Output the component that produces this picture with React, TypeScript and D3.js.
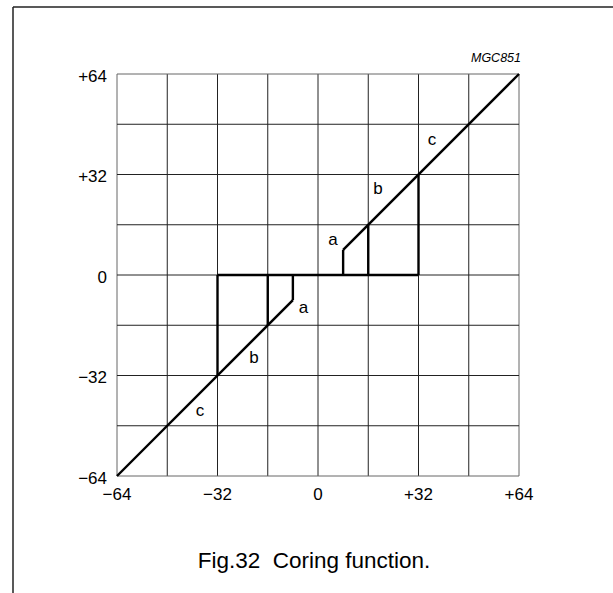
import { scaleLinear, line, range } from 'd3';

// axis domain and ticks
const domain = [-64, 64];
const gridTicks = range(-64, 65, 16);
const labelTicks = [-64, -32, 0, 32, 64];
const tickLabel = (v: number) => (v > 0 ? `+${v}` : v < 0 ? `\u2212${-v}` : '0');

// coring thresholds (a, b, c regions)
const thresholds = [8, 16, 32];
const diagonalParts: [number, number][][] = [
  [[-64, -64], [-8, -8]],
  [[8, 8], [64, 64]],
];
const zeroLine: [number, number][] = [[-32, 0], [32, 0]];

// region labels in data coordinates
const regionLabels = [
  { text: 'a', x: 4.8, y: 11.4 },
  { text: 'b', x: 19.1, y: 27.6 },
  { text: 'c', x: 36.3, y: 43.3 },
  { text: 'a', x: -4.6, y: -10.4 },
  { text: 'b', x: -20.4, y: -26.4 },
  { text: 'c', x: -37.6, y: -43 },
];

const code = 'MGC851';
const caption = 'Fig.32  Coring function.';

const font = 'Liberation Sans, Arial, Helvetica, sans-serif';

export default function App() {
  const width = 613;
  const height = 593;
  const left = 117;
  const right = 519;
  const top = 74;
  const bottom = 476;

  const x = scaleLinear().domain(domain).range([left, right]);
  const y = scaleLinear().domain(domain).range([bottom, top]);
  const path = line<[number, number]>()
    .x((d) => x(d[0]))
    .y((d) => y(d[1]));

  const verticals = thresholds.flatMap((t) => [t, -t]);

  return (
    <svg
      width={width}
      height={height}
      style={{ position: 'absolute', left: 0, top: 0, background: '#fff' }}
      fontFamily={font}
    >
      {/* page frame */}
      <line x1={13} y1={7} x2={width} y2={7} stroke="#222" strokeWidth={1.5} />
      <line x1={13} y1={7} x2={13} y2={height} stroke="#222" strokeWidth={1.5} />

      {/* grid */}
      <g>
        {gridTicks.map((t) => (
          <line
            key={`v${t}`}
            x1={x(t)}
            x2={x(t)}
            y1={top}
            y2={bottom}
            stroke={Math.abs(t) === 64 ? '#666' : '#222'}
            strokeWidth={1}
          />
        ))}
        {gridTicks.map((t) => (
          <line
            key={`h${t}`}
            x1={left}
            x2={right}
            y1={y(t)}
            y2={y(t)}
            stroke={Math.abs(t) === 64 ? '#666' : '#222'}
            strokeWidth={1}
          />
        ))}
      </g>

      {/* coring function */}
      <g fill="none" stroke="#000" strokeWidth={2.4}>
        {diagonalParts.map((p, i) => (
          <path key={`d${i}`} d={path(p) || ''} />
        ))}
        <path d={path(zeroLine) || ''} />
        {verticals.map((t) => (
          <path
            key={`s${t}`}
            d={
              path([
                [t, 0],
                [t, t],
              ]) || ''
            }
          />
        ))}
      </g>

      {/* region labels */}
      {regionLabels.map((l, i) => (
        <text key={i} x={x(l.x)} y={y(l.y) + 5.5} fontSize={17} textAnchor="middle" fill="#000">
          {l.text}
        </text>
      ))}

      {/* y tick labels */}
      {labelTicks.map((t) => (
        <text key={`yl${t}`} x={left - 10} y={y(t) + 7.5} fontSize={17} textAnchor="end" fill="#000">
          {tickLabel(t)}
        </text>
      ))}

      {/* x tick labels */}
      {labelTicks.map((t) => (
        <text key={`xl${t}`} x={x(t)} y={bottom + 24} fontSize={17} textAnchor="middle" fill="#000">
          {tickLabel(t)}
        </text>
      ))}

      <text x={right + 2} y={62} fontSize={12.5} fontStyle="italic" textAnchor="end" fill="#000">
        {code}
      </text>

      <text
        x={314}
        y={568}
        fontSize={22.5}
        textAnchor="middle"
        fill="#000"
        style={{ whiteSpace: 'pre' }}
      >
        {caption}
      </text>
    </svg>
  );
}
